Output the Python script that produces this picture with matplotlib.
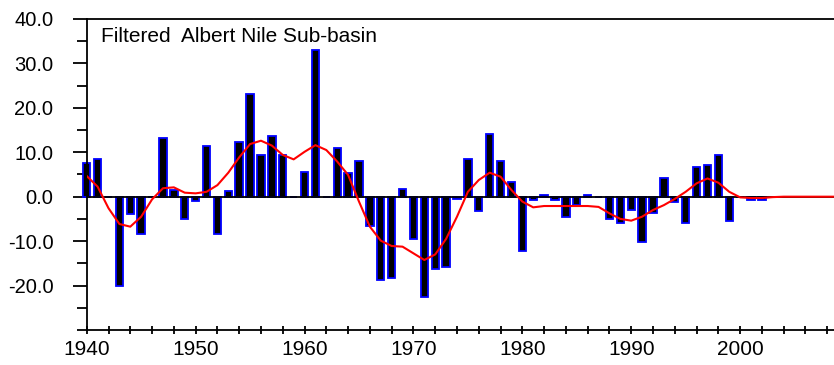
import matplotlib
matplotlib.use("Agg")
import matplotlib.pyplot as plt
from matplotlib.ticker import MultipleLocator, FixedLocator

plt.rcParams['font.family'] = ['Liberation Sans', 'DejaVu Sans']

bar_years = list(range(1940, 2003))
bar_values = [7.5, 8.4, 0.0, -20.1, -4.0, -8.4, 0.0, 13.3, 1.5, -5.1,
              -0.9, 11.4, -8.4, 1.35, 12.2, 23.1, 9.4, 13.7, 9.4, 0.0,
              5.6, 33.0, 0.0, 10.9, 5.25, 8.0, -6.6, -18.75, -18.2, 1.7,
              -9.6, -22.5, -16.35, -15.9, -0.6, 8.4, -3.15, 14.1, 8.0, 3.2,
              -12.15, -0.75, 0.45, -0.75, -4.5, -1.9, 0.45, 0.0, -5.1, -6.0,
              -3.0, -10.3, -3.6, 4.1, -1.1, -6.0, 6.6, 7.1, 9.4, -5.5,
              0.0, -0.7, -0.7]

filt_years = list(range(1940, 2011))
filt_values = [4.65, 2.25, -2.6, -6.15, -6.75, -4.5, -0.6, 1.9, 2.1, 0.9,
               0.75, 1.1, 2.6, 5.4, 8.85, 11.85, 12.6, 11.5, 9.4, 8.4,
               10.1, 11.6, 10.5, 7.9, 4.9, -1.1, -6.75, -9.9, -11.1, -11.25,
               -12.75, -14.25, -13.0, -9.5, -4.5, 1.1, 3.75, 5.4, 4.5, 1.5,
               -1.1, -2.4, -2.1, -2.1, -2.1, -2.1, -2.1, -2.3, -3.75, -5.0,
               -5.4, -4.5, -3.0, -1.9, -0.5, 1.1, 3.0, 4.1, 3.15, 1.1,
               -0.15, -0.3, -0.3, -0.1, 0.0, 0.0, 0.0, 0.0, 0.0, 0.0, 0.0]

y_ticks = [-20, -10, 0, 10, 20, 30, 40]
y_labels = ["-20.0", "-10.0", "0.0", "10.0", "20.0", "30.0", "40.0"]
x_ticks = [1940, 1950, 1960, 1970, 1980, 1990, 2000]
x_labels = ["1940", "1950", "1960", "1970", "1980", "1990", "2000"]
title = "Filtered  Albert Nile Sub-basin"

fig = plt.figure(figsize=(8.34, 3.65), dpi=100)
ax = fig.add_axes([0.104, 0.096, 0.896, 0.852])

ax.bar(bar_years, bar_values, width=0.68, color='black', edgecolor='#0000ff',
       linewidth=1.3, zorder=2, clip_on=False)
ax.axhline(0, color='black', linewidth=1.3, zorder=3)
ax.plot(filt_years, filt_values, color='#ff0000', linewidth=1.5, zorder=4)

ax.set_xlim(1940, 2008.62)
ax.set_ylim(-30, 40)

ax.yaxis.set_major_locator(FixedLocator(y_ticks))
ax.set_yticklabels(y_labels)
ax.yaxis.set_minor_locator(MultipleLocator(5))
ax.xaxis.set_major_locator(FixedLocator(x_ticks))
ax.set_xticklabels(x_labels)
ax.xaxis.set_minor_locator(MultipleLocator(2))

ax.tick_params(axis='y', which='major', direction='out', length=10, width=1.3,
               pad=14, labelsize=14.5)
ax.tick_params(axis='y', which='minor', direction='out', length=7, width=1.3)
ax.tick_params(axis='x', which='both', direction='inout', length=6, width=1.3,
               pad=4, labelsize=15)

for s in ['left', 'bottom', 'top']:
    ax.spines[s].set_linewidth(1.3)
ax.spines['right'].set_visible(False)

ax.text(0.019, 0.975, title, transform=ax.transAxes, fontsize=15,
        ha='left', va='top')

fig.savefig("out.png", dpi=100)
